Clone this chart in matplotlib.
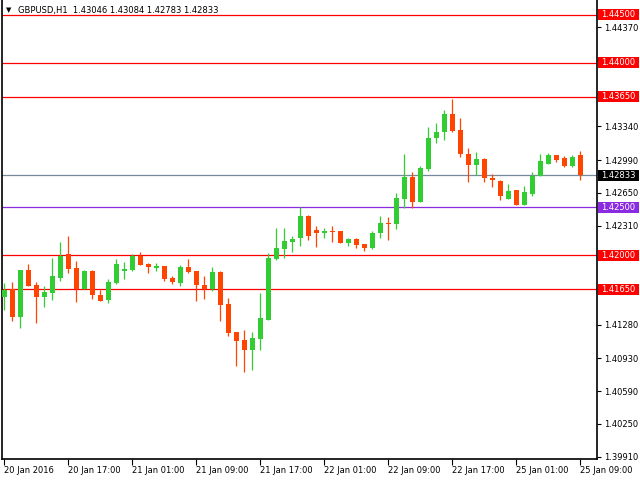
import matplotlib
matplotlib.use("Agg")
import matplotlib.pyplot as plt
from matplotlib.patches import Rectangle
from matplotlib.transforms import blended_transform_factory

# GBPUSD H1 candles, 20 Jan 09:00 .. 25 Jan 09:00
opens = [1.41568, 1.41655, 1.41361, 1.41845, 1.41689, 1.41568, 1.41610, 1.41765, 1.42010, 1.41865,
         1.41655, 1.41834, 1.41590, 1.41537, 1.41713, 1.41837, 1.41848, 1.41997, 1.41907, 1.41865,
         1.41886, 1.41769, 1.41713, 1.41876, 1.41834, 1.41689, 1.41655, 1.41824, 1.41492, 1.41202,
         1.41119, 1.41019, 1.41133, 1.41330, 1.41959, 1.42062, 1.42135, 1.42179, 1.42414, 1.42269,
         1.42231, 1.42259, 1.42249, 1.42127, 1.42166, 1.42114, 1.42076, 1.42231, 1.42342, 1.42324,
         1.42583, 1.42818, 1.42552, 1.42901, 1.43222, 1.43277, 1.43471, 1.43305, 1.43057, 1.42935,
         1.43005, 1.42800, 1.42777, 1.42583, 1.42677, 1.42521, 1.42635, 1.42822, 1.42953, 1.43046,
         1.43015, 1.42932, 1.43046]
highs = [1.41710, 1.41720, 1.41845, 1.41907, 1.41720, 1.41679, 1.41969, 1.42135, 1.42197, 1.41938,
         1.41845, 1.41845, 1.41637, 1.41751, 1.41959, 1.41927, 1.42010, 1.42041, 1.41917, 1.41917,
         1.41886, 1.41782, 1.41896, 1.41959, 1.41834, 1.41782, 1.41876, 1.41837, 1.41555, 1.41202,
         1.41223, 1.41202, 1.41606, 1.42021, 1.42290, 1.42290, 1.42207, 1.42500, 1.42425, 1.42311,
         1.42283, 1.42311, 1.42259, 1.42186, 1.42186, 1.42114, 1.42249, 1.42414, 1.42404, 1.42645,
         1.43057, 1.42870, 1.42932, 1.43336, 1.43378, 1.43513, 1.43627, 1.43430, 1.43119, 1.43077,
         1.43015, 1.42849, 1.42787, 1.42739, 1.42677, 1.42725, 1.42870, 1.43057, 1.43067, 1.43046,
         1.43036, 1.43046, 1.43084]
lows = [1.41430, 1.41320, 1.41247, 1.41682, 1.41299, 1.41464, 1.41534, 1.41734, 1.41817, 1.41516,
        1.41655, 1.41547, 1.41527, 1.41506, 1.41700, 1.41751, 1.41834, 1.41896, 1.41817, 1.41834,
        1.41734, 1.41703, 1.41682, 1.41814, 1.41527, 1.41547, 1.41630, 1.41320, 1.41164, 1.40853,
        1.40791, 1.40812, 1.41019, 1.41330, 1.41948, 1.41969, 1.42041, 1.42096, 1.42159, 1.42086,
        1.42179, 1.42138, 1.42127, 1.42096, 1.42076, 1.42045, 1.42065, 1.42179, 1.42159, 1.42272,
        1.42494, 1.42494, 1.42552, 1.42881, 1.43171, 1.43202, 1.43285, 1.43018, 1.42759, 1.42835,
        1.42759, 1.42708, 1.42573, 1.42583, 1.42521, 1.42521, 1.42614, 1.42822, 1.42953, 1.42974,
        1.42922, 1.42922, 1.42783]
closes = [1.41637, 1.41361, 1.41845, 1.41682, 1.41568, 1.41617, 1.41782, 1.41993, 1.41858, 1.41655,
          1.41834, 1.41586, 1.41527, 1.41720, 1.41907, 1.41855, 1.41997, 1.41896, 1.41879, 1.41889,
          1.41754, 1.41720, 1.41876, 1.41824, 1.41689, 1.41651, 1.41824, 1.41485, 1.41195, 1.41112,
          1.41019, 1.41140, 1.41347, 1.41969, 1.42073, 1.42145, 1.42176, 1.42414, 1.42200, 1.42231,
          1.42259, 1.42241, 1.42127, 1.42166, 1.42104, 1.42076, 1.42238, 1.42342, 1.42324, 1.42594,
          1.42818, 1.42552, 1.42912, 1.43222, 1.43284, 1.43471, 1.43295, 1.43049, 1.42935, 1.43005,
          1.42800, 1.42779, 1.42615, 1.42666, 1.42521, 1.42656, 1.42829, 1.42984, 1.43046, 1.42994,
          1.42932, 1.43025, 1.42833]

time_labels = ["20 Jan 2016", "20 Jan 17:00", "21 Jan 01:00", "21 Jan 09:00", "21 Jan 17:00",
               "22 Jan 01:00", "22 Jan 09:00", "22 Jan 17:00", "25 Jan 01:00", "25 Jan 09:00"]
price_ticks = [1.39910, 1.40250, 1.40590, 1.40930, 1.41280, 1.41620, 1.41970, 1.42310,
               1.42650, 1.42990, 1.43340, 1.43680, 1.44030, 1.44370]
red_levels = [1.44500, 1.44000, 1.43650, 1.42000, 1.41650]
purple_level = 1.42500
bid = 1.42833

bull = "#32CD32"
bear = "#FF4500"

fig = plt.figure(figsize=(6.4, 4.8), dpi=100)
ax = fig.add_axes([2 / 640, 1 - 459 / 480, 595 / 640, 459 / 480])
ax.set_xlim(-0.3, 74.1)
ax.set_ylim(1.39886, 1.44653)

n = len(opens)
xs = list(range(n))
cols = [bull if c >= o else bear for o, c in zip(opens, closes)]
ax.vlines(xs, lows, highs, colors=cols, lw=0.9, zorder=3)
bottoms = [min(o, c) for o, c in zip(opens, closes)]
heights = [max(abs(c - o), 0.00003) for o, c in zip(opens, closes)]
ax.bar(xs, heights, bottom=bottoms, width=0.65, color=cols, linewidth=0, zorder=4)

# horizontal levels
for lv in red_levels:
    ax.axhline(lv, color="#FF0000", lw=0.9, zorder=2)
ax.axhline(purple_level, color="#8A2BE2", lw=0.9, zorder=2)
ax.axhline(bid, color="#778899", lw=0.9, zorder=2)

# axes look
ax.spines["top"].set_visible(False)
for s in ["left", "right", "bottom"]:
    ax.spines[s].set_linewidth(1.2)
ax.yaxis.tick_right()
ax.set_yticks(price_ticks)
# labels that sit under a level box are hidden, as on the terminal
covered = [1.41620, 1.41970, 1.43680, 1.44030]
ax.set_yticklabels(["" if v in covered else "%.5f" % v for v in price_ticks])
ax.tick_params(axis="y", direction="out", length=3, width=0.8, pad=2, labelsize=6)
ax.set_xticks(range(0, n, 8))
ax.set_xticklabels(time_labels)
ax.tick_params(axis="x", direction="out", length=4, width=0.8, pad=1, labelsize=6)
for lab in ax.get_xticklabels():
    lab.set_horizontalalignment("left")

# price labels on the right scale
tr = blended_transform_factory(fig.transFigure, ax.transData)
half = 5.5 * (1.44653 - 1.39886) / 459
boxes = [(lv, "#FF0000") for lv in red_levels] + [(purple_level, "#8A2BE2"), (bid, "#000000")]
for lv, c in boxes:
    ax.add_patch(Rectangle((598 / 640, lv - half), 41 / 640, 2 * half, transform=tr,
                           facecolor=c, edgecolor="none", clip_on=False, zorder=6))
    ax.text(601 / 640, lv, "%.5f" % lv, transform=tr, color="white", fontsize=6,
            va="center", ha="left", zorder=7, clip_on=False)

fig.text(6 / 640, 1 - 10 / 480, "\u25bc", fontsize=5, va="center", ha="left")
fig.text(18 / 640, 1 - 10 / 480, "GBPUSD,H1  1.43046 1.43084 1.42783 1.42833",
         fontsize=6, va="center", ha="left")

fig.savefig("out.png", dpi=100)
